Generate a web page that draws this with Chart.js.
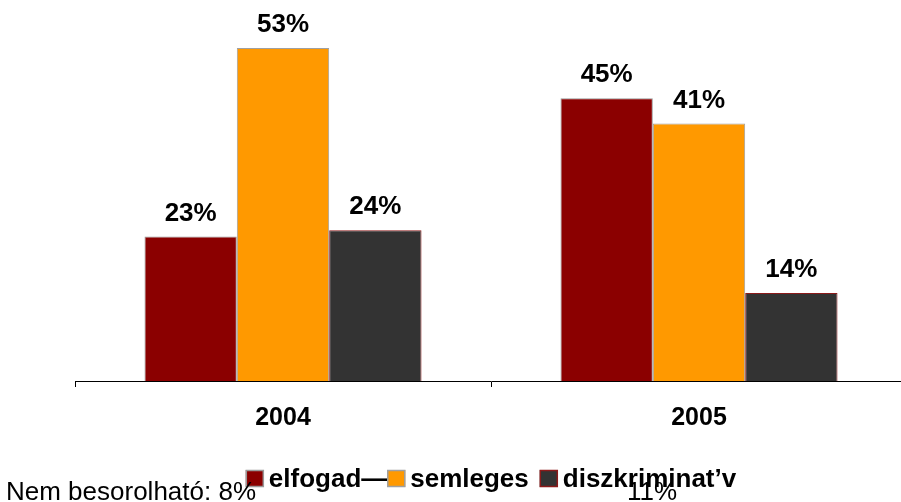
<!DOCTYPE html>
<html>
<head>
<meta charset="utf-8">
<script src="https://cdn.jsdelivr.net/npm/chart.js@4.4.0/dist/chart.umd.min.js"></script>
<style>
html, body { margin: 0; padding: 0; background: #fff; overflow: hidden; }
#wrap { width: 907px; height: 502px; position: relative; }
</style>
</head>
<body>
<div id="wrap"><canvas id="myChart"></canvas></div>
<script>
let years = ['2004', '2005'];
let elfogad = [23, 45];
let semleges = [53, 41];
let diszkriminativ = [24, 14];
let nemBesorolhato = ['Nem besorolható: 8%', '11%'];

let FONT = '"Liberation Sans", Arial, sans-serif';

// labels over the bars
let valueLabels = {
    id: 'valueLabels',
    afterDatasetsDraw(chart) {
        let ctx = chart.ctx;
        ctx.save();
        ctx.font = 'bold 26px ' + FONT;
        ctx.fillStyle = '#000';
        ctx.textAlign = 'center';
        ctx.textBaseline = 'middle';
        chart.data.datasets.forEach((ds, i) => {
            chart.getDatasetMeta(i).data.forEach((bar, j) => {
                ctx.fillText(ds.data[j] + '%', bar.x, bar.y - 23);
            });
        });
        ctx.restore();
    }
};

// legend drawn by hand (box and text close together, like the original)
let ownLegend = {
    id: 'ownLegend',
    afterDraw(chart) {
        let ctx = chart.ctx;
        let area = chart.chartArea;
        ctx.save();
        ctx.font = 'bold 26px ' + FONT;
        let box = 18, gap = 5, space = 11;
        let items = chart.data.datasets.map(ds => ({ ds: ds, w: ctx.measureText(ds.label).width }));
        let total = 0;
        items.forEach((it, i) => { total += box + gap + it.w + (i == 1 ? space : 0); });
        let x = (area.left + area.right) / 2 - total / 2;
        let boxTop = 470;
        items.forEach((it, i) => {
            ctx.fillStyle = it.ds.backgroundColor;
            ctx.fillRect(x, boxTop, box, box - 1);
            ctx.strokeStyle = it.ds.borderColor;
            ctx.lineWidth = 1.5;
            ctx.strokeRect(x + 0.5, boxTop + 0.5, box - 1, box - 2);
            ctx.fillStyle = '#000';
            ctx.textBaseline = 'alphabetic';
            ctx.fillText(it.ds.label, x + box + gap, 487);
            x += box + gap + it.w + (i == 1 ? space : 0);
        });
        ctx.restore();
    }
};

// "Nem besorolható" footnote
let footNote = {
    id: 'footNote',
    afterDraw(chart) {
        let ctx = chart.ctx;
        ctx.save();
        ctx.font = '26px ' + FONT;
        ctx.fillStyle = '#000';
        ctx.textBaseline = 'alphabetic';
        ctx.fillText(nemBesorolhato[0], 6, 500);
        ctx.fillText(nemBesorolhato[1], 627, 500);
        ctx.restore();
    }
};

let ctx = document.getElementById('myChart').getContext('2d');
let myChart = new Chart(ctx, {
    type: 'bar',
    data: {
        labels: years,
        datasets: [{
            label: 'elfogad—',
            data: elfogad,
            backgroundColor: '#8B0000',
            borderColor: '#999999',
            borderWidth: 1
        }, {
            label: 'semleges',
            data: semleges,
            backgroundColor: '#FF9900',
            borderColor: '#A0A0A0',
            borderWidth: 1
        }, {
            label: 'diszkriminat’v',
            data: diszkriminativ,
            backgroundColor: '#333333',
            borderColor: '#8B1A1A',
            borderWidth: 1
        }]
    },
    options: {
        responsive: true,
        maintainAspectRatio: false,
        animation: false,
        layout: { padding: { left: 75, right: 0, top: 4, bottom: 53 } },
        datasets: { bar: { categoryPercentage: 0.666, barPercentage: 1.0 } },
        plugins: {
            tooltip: { enabled: false },
            legend: { display: false }
        },
        scales: {
            x: {
                offset: true,
                grid: { display: true, drawOnChartArea: false, color: '#000', tickLength: 6, offset: true },
                border: { display: true, color: '#000', width: 1 },
                ticks: {
                    color: '#000',
                    padding: 16,
                    font: { family: FONT, size: 25, weight: 'bold' }
                }
            },
            y: {
                display: false,
                min: 0,
                max: 60
            }
        }
    },
    plugins: [valueLabels, ownLegend, footNote]
});
</script>
</body>
</html>
